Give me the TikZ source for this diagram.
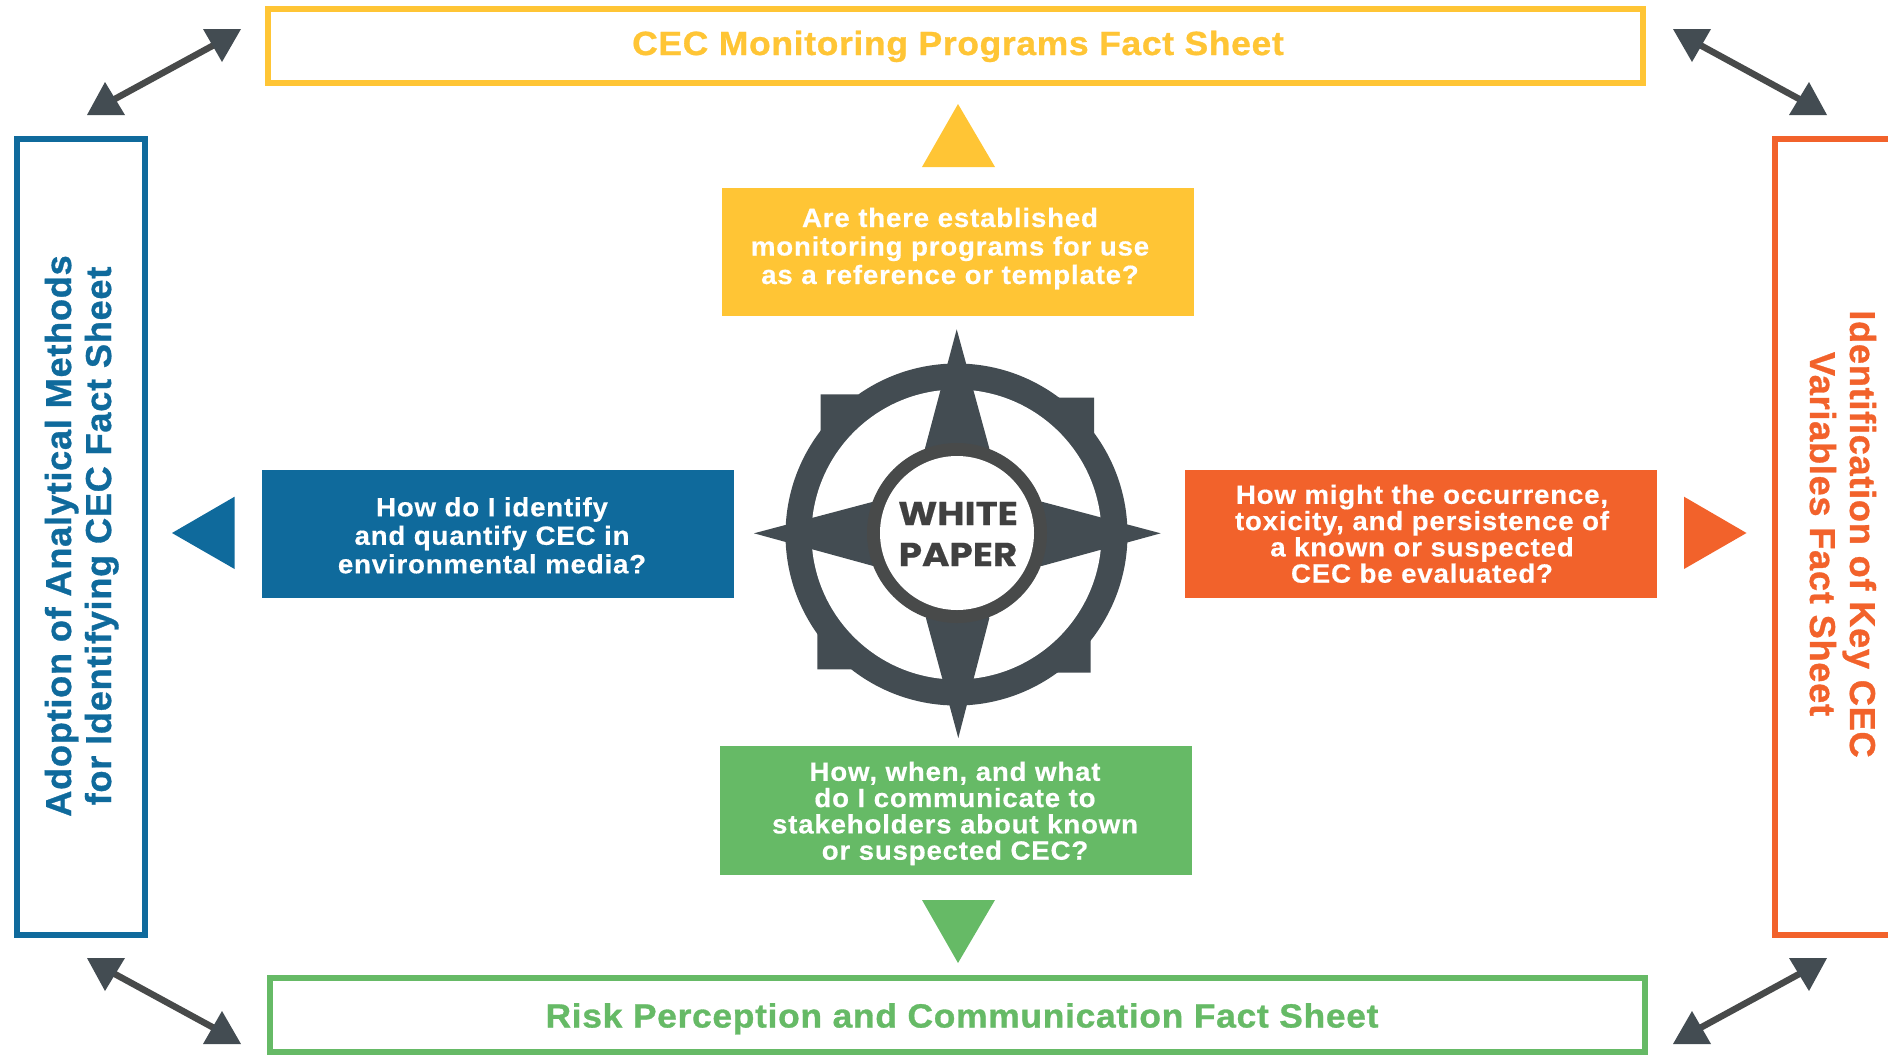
\documentclass[tikz,border=0pt]{standalone}
\usepackage{fontspec}
\setmainfont{Liberation Sans}
\newfontfamily\hubfont[FakeStretch=1.13,FakeBold=0.5,UprightFont=* Bold]{Poppins}
\newfontfamily\qfont[FakeStretch=1.045,FakeBold=0.4,LetterSpace=3,UprightFont=* Bold]{Liberation Sans}
\newfontfamily\titlefont[FakeStretch=1.058,FakeBold=0.9,LetterSpace=2,UprightFont=* Bold]{Liberation Sans}
\newfontfamily\sidefont[FakeStretch=1.005,FakeBold=0.9,LetterSpace=2,UprightFont=* Bold]{Liberation Sans}
\definecolor{cyellow}{HTML}{FFC535}
\definecolor{cblue}{HTML}{0F6A9C}
\definecolor{corange}{HTML}{F2622B}
\definecolor{cgreen}{HTML}{66BA66}
\definecolor{cdark}{HTML}{434C52}
\definecolor{cring}{HTML}{484A4A}
\definecolor{ctext}{HTML}{404040}
\tikzset{
  sheetbox/.style={draw=#1,line width=6pt,fill=white,inner sep=0pt},
  qbox/.style={fill=#1,inner sep=0pt},
  qtext/.style={text=white,inner sep=0pt,align=center,anchor=base,font=\qfont\fontsize{26.5}{28.5}\selectfont},
  qtextfour/.style={qtext,font=\qfont\fontsize{26.5}{26.3}\selectfont},
  title/.style={text=#1,inner sep=0pt,align=center,anchor=base,font=\titlefont\fontsize{33.5}{40}\selectfont},
  sidetitle/.style={text=#1,inner sep=0pt,align=center,anchor=base,font=\sidefont\fontsize{36}{40}\selectfont},
  link/.style={draw=cring,line width=6.5pt},
}
\begin{document}
\begin{tikzpicture}[x=1pt,y=-1pt]
\useasboundingbox (0,0) rectangle (1888,1055);
\clip (0,0) rectangle (1888,1055);
% fact sheet frames
\node[sheetbox=cyellow,minimum width=1375pt,minimum height=74pt] (topsheet) at (955.5,46) {};
\node[sheetbox=cgreen,minimum width=1375pt,minimum height=74pt] (botsheet) at (957.5,1015) {};
\node[sheetbox=cblue,minimum width=128pt,minimum height=796pt] (leftsheet) at (81,536.5) {};
\node[sheetbox=corange,minimum width=160pt,minimum height=796pt] (rightsheet) at (1855,536.5) {};
\node[title=cyellow] (toptitle) at (958,55) {CEC Monitoring Programs Fact Sheet};
\node[title=cgreen] (bottitle) at (962,1027.5) {Risk Perception and Communication Fact Sheet};
\node[sidetitle=cblue,rotate=90] (lefttitle) at (111,536) {Adoption of Analytical Methods\\for Identifying CEC Fact Sheet};
\node[sidetitle=corange,rotate=-90] (righttitle) at (1810,534) {Identification of Key CEC\\Variables Fact Sheet};
% question boxes
\node[qbox=cyellow,minimum width=472pt,minimum height=128pt] (qtop) at (958,252) {};
\node[qbox=cgreen,minimum width=472pt,minimum height=128.7pt] (qbot) at (956,810.3) {};
\node[qbox=cblue,minimum width=472pt,minimum height=128.7pt] (qleft) at (498,534) {};
\node[qbox=corange,minimum width=472pt,minimum height=128.7pt] (qright) at (1421,534) {};
\node[qtext] (ttop) at (950,284) {Are there established\\monitoring programs for use\\as a reference or template?};
\node[qtextfour] (tbot) at (955,859.7) {How, when, and what\\do I communicate to\\stakeholders about known\\or suspected CEC?};
\node[qtext] (tleft) at (492,573.3) {How do I identify\\and quantify CEC in\\environmental media?};
\node[qtextfour] (tright) at (1422,582.7) {How might the occurrence,\\toxicity, and persistence of\\a known or suspected\\CEC be evaluated?};
% direction triangles
\fill[cyellow] (958,104) -- (995,167) -- (922,167) -- cycle;
\fill[cgreen] (958,963) -- (995,900) -- (922,900) -- cycle;
\fill[cblue] (172,533) -- (234.6,496.7) -- (234.6,569) -- cycle;
\fill[corange] (1746.5,533) -- (1684,496.7) -- (1684,569) -- cycle;
% corner links
\coordinate (tl1) at (113,100); \coordinate (tl2) at (214,45);
\coordinate (tr1) at (1700,45); \coordinate (tr2) at (1801,100);
\coordinate (bl1) at (113,973); \coordinate (bl2) at (214,1028);
\coordinate (br1) at (1700,1028); \coordinate (br2) at (1801,973);
\draw[link] (tl1) -- (tl2);
\draw[link] (tr1) -- (tr2);
\draw[link] (bl1) -- (bl2);
\draw[link] (br1) -- (br2);
\fill[cdark] (203,29) -- (241,29) -- (222,62) -- cycle;
\fill[cdark] (105,82) -- (87,115) -- (125,115) -- cycle;
\fill[cdark] (1711,29) -- (1673,29) -- (1692,62) -- cycle;
\fill[cdark] (1809,82) -- (1827,115) -- (1789,115) -- cycle;
\fill[cdark] (125,958) -- (87,958) -- (105,991) -- cycle;
\fill[cdark] (222,1011) -- (241,1044) -- (203,1044) -- cycle;
\fill[cdark] (1789,958) -- (1827,958) -- (1809,991) -- cycle;
\fill[cdark] (1692,1011) -- (1673,1044) -- (1711,1044) -- cycle;
% compass
\fill[cdark] (956.5,534.5) circle[radius=171pt];
\fill[cdark] (820.7,431.7) -- (820.7,394.3) -- (858.3,394.3) -- (860,430) -- cycle;
\fill[cdark] (1094,435) -- (1094,397.7) -- (1058.3,397.7) -- (1055,432) -- cycle;
\fill[cdark] (817.3,632.7) -- (817.3,669.3) -- (851.7,669.3) -- (855,635) -- cycle;
\fill[cdark] (1090.7,638.3) -- (1090.7,672.7) -- (1056,672.7) -- (1055,638) -- cycle;
\fill[white] (956.5,534.5) circle[radius=145pt];
\fill[cdark] (956.7,329.3) -- (989.3,448.3) -- (957,533) -- (925,448.3) -- cycle;
\fill[cdark] (958.3,738) -- (989.3,618.3) -- (957,533) -- (926,618.3) -- cycle;
\fill[cdark] (754,533.3) -- (873.3,501.7) -- (957,533) -- (873.3,566) -- cycle;
\fill[cdark] (1160.7,533.3) -- (1041.7,501.7) -- (957,533) -- (1041.7,566) -- cycle;
\fill[cring] (957,533) circle[radius=90pt];
\node[circle,fill=white,minimum size=154pt,inner sep=0pt] (hub) at (957,533) {};
\node[text=ctext,inner sep=0pt,align=center,anchor=base,font=\hubfont\fontsize{33}{41}\selectfont] (hubtext) at (958,566) {WHITE\\PAPER};
\end{tikzpicture}
\end{document}
